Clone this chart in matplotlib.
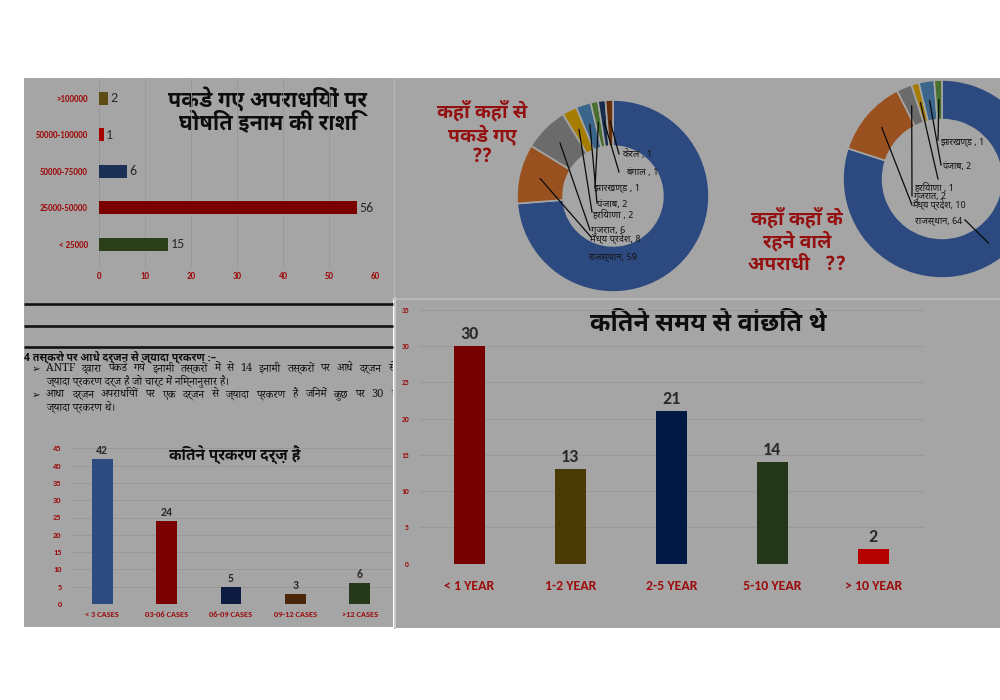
import matplotlib
matplotlib.use("Agg")
import matplotlib.pyplot as plt
from matplotlib.patches import Rectangle
from matplotlib import font_manager as fm
import numpy as np

# ------------------------------------------------------------------ data
reward_cats = ['>100000', '50000-100000', '50000-75000', '25000-50000', '< 25000']
reward_vals = [2, 1, 6, 56, 15]
reward_ticks = [0, 10, 20, 30, 40, 50, 60]

cases_cats = ['< 3 CASES', '03-06 CASES', '06-09 CASES', '09-12 CASES', '>12 CASES']
cases_vals = [42, 24, 5, 3, 6]
cases_ticks = [0, 5, 10, 15, 20, 25, 30, 35, 40, 45]

wanted_cats = ['< 1 YEAR', '1-2 YEAR', '2-5 YEAR', '5-10 YEAR', '> 10 YEAR']
wanted_vals = [30, 13, 21, 14, 2]
wanted_ticks = [0, 5, 10, 15, 20, 25, 30, 35]

caught_states = ['राजस्थान', 'मध्य प्रदेश', 'गुजरात', 'हरियाणा', 'पंजाब', 'झारखण्ड', 'बंगाल', 'केरल']
caught_vals = [59, 8, 6, 2, 2, 1, 1, 1]
caught_seps = [', ', ', ', ', ', ' , ', ', ', ' , ', ' , ', ' , ']

native_states = ['राजस्थान', 'मध्य प्रदेश', 'गुजरात', 'हरियाणा', 'पंजाब', 'झारखण्ड']
native_vals = [64, 10, 2, 1, 2, 1]
native_seps = [', ', ', ', ', ', ' , ', ', ', ' , ']

title_reward = ['पकडे गए अपराधियों पर', 'घोषित इनाम की राशि']
title_caught = ['कहाँ कहाँ से', 'पकडे गए', '??']
title_native = ['कहाँ कहाँ के', 'रहने वाले', 'अपराधी   ??']
title_cases = 'कितने प्रकरण दर्ज़ हैं'
title_wanted = 'कितने समय से वांछित थे'

note_head = '4 तस्करो पर आधे दर्जन से ज्यादा प्रकरण :–'
note_lines = [
    ('➢', 'ANTF द्वारा पकडे गये इनामी तस्करों में से 14 इनामी तस्करों पर आधे दर्जन से', True),
    ('', 'ज्यादा प्रकरण दर्ज है जो चार्ट में निम्नानुसार है।', False),
    ('➢', 'आधा दर्जन अपराधियों पर एक दर्जन से ज्यादा प्रकरण हैं जिनमें कुछ पर 30 से', True),
    ('', 'ज्यादा प्रकरण थे।', False),
]

# ------------------------------------------------------------------ style
_names = {f.name for f in fm.fontManager.ttflist}
def pick(*cands):
    return [c for c in cands if c in _names]

LATIN = pick('Carlito', 'Calibri', 'Lato', 'Open Sans') + ['DejaVu Sans']
DEV_BOLD = pick('Noto Sans Devanagari UI', 'Mukta', 'Martel Sans', 'Noto Sans Devanagari', 'Poppins') + ['DejaVu Sans']
DEV_SANS = pick('Noto Sans Devanagari', 'Noto Sans Devanagari UI', 'Mukta', 'Poppins') + ['DejaVu Sans']
DEV_SERIF = pick('Noto Serif Devanagari', 'Tiro Devanagari Hindi', 'Tiro Devanagari Sanskrit', 'Kurale') \
    + ['Liberation Serif', 'DejaVu Sans']

PANEL = '#a5a5a5'
GRID = '#979797'
RED_TXT = '#9c0c0c'
TITLE_RED = '#941010'
VAL_TXT = '#2a2a2a'
DIM = 0.65
office = ['#4472c4', '#ed7d31', '#a5a5a5', '#ffc000', '#5b9bd5', '#70ad47', '#264478', '#9e480e']
def dim(h):
    r, g, b = matplotlib.colors.to_rgb(h)
    return (r * DIM, g * DIM, b * DIM)
pie_colors = [dim(c) for c in office]

reward_colors = ['#5f4b14', '#a80000', '#1c2f55', '#7a0000', '#2a3f1a']
cases_colors = ['#2e4b80', '#7a0000', '#0d1b40', '#4a2508', '#26391a']
wanted_colors = ['#760000', '#4a3a05', '#001a45', '#23361a', '#b50000']

W, H = 1000, 700
fig = plt.figure(figsize=(W / 100, H / 100), dpi=100, facecolor='white')
renderer = fig.canvas.get_renderer()

def ax_px(x0, y0, x1, y1, **kw):
    return fig.add_axes([x0 / W, 1 - y1 / H, (x1 - x0) / W, (y1 - y0) / H], **kw)

# ------------------------------------------------------------------ background panels
bg = ax_px(0, 0, W, H)
bg.set_xlim(0, W); bg.set_ylim(H, 0); bg.axis('off')
bg.add_patch(Rectangle((24, 78), 369, 549, facecolor=PANEL, edgecolor='none'))
bg.add_patch(Rectangle((393, 78), 607, 220, facecolor=PANEL, edgecolor='none'))
bg.add_patch(Rectangle((396, 298), 604, 330, facecolor=PANEL, edgecolor='none'))
bg.plot([393.5, 393.5], [78, 298], color='#b9b9b9', lw=1.0)
bg.plot([393, 1000], [298.5, 298.5], color='#bdbdbd', lw=1.2)
bg.plot([395, 395], [298, 628], color='#c9c9c9', lw=1.4)
for yy in (304, 326, 347):
    bg.plot([24, 393], [yy, yy], color='#111111', lw=1.9, solid_capstyle='butt')

# ------------------------------------------------------------------ top-left horizontal bars
ax1 = ax_px(99, 78, 375, 268)
ax1.set_facecolor('none')
ypos = np.arange(len(reward_cats))[::-1]
ax1.barh(ypos, reward_vals, height=0.35, color=reward_colors, zorder=3)
ax1.set_xlim(0, 60)
ax1.set_ylim(-0.649, 4.556)
ax1.set_xticks(reward_ticks)
ax1.set_yticks(ypos)
ax1.set_yticklabels(reward_cats)
ax1.grid(axis='x', color=GRID, lw=0.6, zorder=0)
ax1.tick_params(length=0, colors=RED_TXT, labelsize=6.5, pad=3)
ax1.tick_params(axis='y', pad=8)
for lab in ax1.get_xticklabels() + ax1.get_yticklabels():
    lab.set_family(LATIN); lab.set_fontweight('bold')
for s in ax1.spines.values():
    s.set_visible(False)
for y, v in zip(ypos, reward_vals):
    ax1.text(v + 0.5, y, str(v), va='center', ha='left', fontsize=10, color=VAL_TXT, family=LATIN)
bg.text(268, 99, title_reward[0], ha='center', va='center', fontsize=15.5, fontweight='bold',
        color='#0d0d0d', family=DEV_BOLD)
bg.text(268, 123, title_reward[1], ha='center', va='center', fontsize=15.5, fontweight='bold',
        color='#0d0d0d', family=DEV_BOLD)

# ------------------------------------------------------------------ donut helpers
def donut(cx, cy, R, vals, width, colors):
    ax = ax_px(cx - R, cy - R, cx + R, cy + R)
    ax.pie(vals, colors=colors, startangle=90, counterclock=False, radius=1,
           wedgeprops=dict(width=width, edgecolor=PANEL, linewidth=1.2))
    ax.set_xlim(-1, 1); ax.set_ylim(-1, 1)
    ax.set_aspect('auto')
    ax.axis('off')
    return ax

def px2d(x, y, cx, cy, R):
    return (x - cx) / R, (cy - y) / R

def leader(ax, vals, idx, end_px, cx, cy, R, rstart):
    tot = float(sum(vals))
    cum = np.cumsum(vals)
    frac = (cum[idx] - vals[idx] / 2.0) / tot
    th = np.deg2rad(90 - 360 * frac)
    x0, y0 = rstart * np.cos(th), rstart * np.sin(th)
    x1, y1 = px2d(end_px[0], end_px[1], cx, cy, R)
    ax.plot([x0, x1], [y0, y1], color='#0a0a0a', lw=0.9, clip_on=False)

# ------------------------------------------------------------------ donut 1 (caught where)
C1 = (613, 196, 96)
ad1 = donut(C1[0], C1[1], C1[2], caught_vals, 0.48, pie_colors)
lbl1_pos = [(588, 257), (590, 239), (591, 230), (592, 214), (597, 204), (594, 188), (626, 172), (622, 154)]
line1_end = [None, (591, 237), (590, 230), (592, 212), (597, 203), (595, 188), (619, 172), (619, 154)]
for i, (st, v, sp) in enumerate(zip(caught_states, caught_vals, caught_seps)):
    x, y = px2d(lbl1_pos[i][0], lbl1_pos[i][1], *C1)
    ad1.text(x, y, f'{st}{sp}{v}', ha='left', va='center', fontsize=6.8, color='#151515',
             family=DEV_SANS, clip_on=False)
    if line1_end[i] is not None:
        leader(ad1, caught_vals, i, line1_end[i], *C1, 0.78)
for k, t in enumerate(title_caught):
    bg.text(482, 111 + 23.5 * k, t, ha='center', va='center', fontsize=14, fontweight='bold',
            color=TITLE_RED, family=DEV_BOLD)

# ------------------------------------------------------------------ donut 2 (native where)
C2 = (942, 179, 99)
ad2 = donut(C2[0], C2[1], C2[2], native_vals, 0.40, pie_colors)
lbl2_pos = [(915, 221), (912, 205), (913, 196.5), (914, 187.5), (942, 167), (940, 142)]
line2_end = [(965, 220), (912, 205), (912, 196), (938, 179), (941, 165), (938, 140)]
for i, (st, v, sp) in enumerate(zip(native_states, native_vals, native_seps)):
    x, y = px2d(lbl2_pos[i][0], lbl2_pos[i][1], *C2)
    ad2.text(x, y, f'{st}{sp}{v}', ha='left', va='center', fontsize=6.6, color='#151515',
             family=DEV_SANS, clip_on=False)
    leader(ad2, native_vals, i, line2_end[i], *C2, 0.80)
for k, t in enumerate(title_native):
    bg.text(797, 218 + 23.5 * k, t, ha='center', va='center', fontsize=14, fontweight='bold',
            color=TITLE_RED, family=DEV_BOLD)

# ------------------------------------------------------------------ middle-left notes
axm = ax_px(24, 297, 393, 627)
axm.set_xlim(24, 393); axm.set_ylim(627, 297); axm.axis('off')

axm.text(24, 357, note_head, ha='left', va='center', fontsize=7.6, fontweight='bold',
         color='#111111', family=DEV_BOLD, clip_on=True)

body_fs = 7.9
note_y = [368.5, 381, 394.5, 408]
last_word_x = [388, None, 391, None]
for (arrow, txt, justify), yy, lx in zip(note_lines, note_y, last_word_x):
    if arrow:
        axm.text(32, yy, arrow, ha='left', va='center', fontsize=7.5, color='#111111',
                 family=['DejaVu Sans'], clip_on=True)
    if not justify:
        axm.text(46, yy, txt, ha='left', va='center', fontsize=body_fs, color='#111111',
                 family=DEV_SERIF, clip_on=True)
        continue
    words = txt.split(' ')
    arts = [axm.text(0, yy, w_, ha='left', va='center', fontsize=body_fs, color='#111111',
                     family=DEV_SERIF, clip_on=True) for w_ in words]
    widths = [a.get_window_extent(renderer).width for a in arts]
    gap = max(2.5, (lx - 46 - sum(widths[:-1])) / (len(words) - 1))
    x = 46.0
    for a, wd in zip(arts, widths):
        a.set_x(x)
        x += wd + gap

# ------------------------------------------------------------------ bottom-left vertical bars
ax3 = ax_px(70, 448.3, 392, 604)
ax3.set_facecolor('none')
xpos = np.arange(len(cases_cats))
ax3.bar(xpos, cases_vals, width=0.32, color=cases_colors, zorder=3)
ax3.set_xlim(-0.5, 4.5); ax3.set_ylim(0, 45)
ax3.set_yticks(cases_ticks)
ax3.set_xticks(xpos); ax3.set_xticklabels(cases_cats)
ax3.grid(axis='y', color=GRID, lw=0.6, zorder=0)
ax3.tick_params(length=0, colors=RED_TXT, labelsize=6)
ax3.tick_params(axis='y', pad=6)
ax3.tick_params(axis='x', pad=5)
for lab in ax3.get_xticklabels() + ax3.get_yticklabels():
    lab.set_family(LATIN); lab.set_fontweight('bold')
for s in ax3.spines.values():
    s.set_visible(False)
for x, v in zip(xpos, cases_vals):
    ax3.text(x, v + 0.8, str(v), ha='center', va='bottom', fontsize=8.5, fontweight='bold',
             color=VAL_TXT, family=LATIN)
bg.text(235, 455, title_cases, ha='center', va='center', fontsize=11, fontweight='bold',
        color='#0d0d0d', family=DEV_BOLD)

# ------------------------------------------------------------------ bottom-right vertical bars
ax4 = ax_px(418.8, 310, 923.8, 563.7)
ax4.set_facecolor('none')
xpos = np.arange(len(wanted_cats))
ax4.bar(xpos, wanted_vals, width=0.31, color=wanted_colors, zorder=3)
ax4.set_xlim(-0.5, 4.5); ax4.set_ylim(0, 35)
ax4.set_yticks(wanted_ticks)
ax4.set_xticks(xpos); ax4.set_xticklabels(wanted_cats)
ax4.grid(axis='y', color=GRID, lw=0.6, zorder=0)
ax4.tick_params(length=0, colors=RED_TXT)
ax4.tick_params(axis='y', labelsize=5.5, pad=7)
ax4.tick_params(axis='x', labelsize=10, pad=12)
for lab in ax4.get_xticklabels() + ax4.get_yticklabels():
    lab.set_family(LATIN); lab.set_fontweight('bold')
for s in ax4.spines.values():
    s.set_visible(False)
for x, v in zip(xpos, wanted_vals):
    ax4.text(x, v + 0.6, str(v), ha='center', va='bottom', fontsize=13, fontweight='bold',
             color=VAL_TXT, family=LATIN)
bg.text(708, 325, title_wanted, ha='center', va='center', fontsize=18, fontweight='bold',
        color='#0d0d0d', family=DEV_BOLD)

bg.set_zorder(-10)
fig.savefig('out.png', dpi=100, facecolor='white')
